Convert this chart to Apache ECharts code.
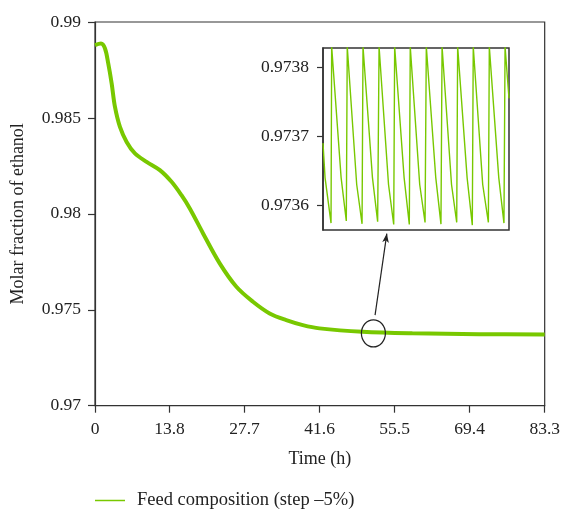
<!DOCTYPE html>
<html>
<head>
<meta charset="utf-8">
<script src="https://cdn.jsdelivr.net/npm/echarts@6/dist/echarts.min.js"></script>
<style>html,body{margin:0;padding:0;background:#fff}#c{width:563px;height:509px}</style>
</head>
<body>
<div id="c"></div>
<script>
// Main curve (time in h, molar fraction)
const mainTime = [0, 1.11, 1.85, 2.46, 3.09, 3.70, 4.62, 5.86, 7.39, 9.56, 12.01, 14.18, 16.02, 17.56, 20.02, 23.10, 26.19, 29.26, 32.35, 35.43, 38.50, 41.59, 49.53, 58.78, 71.16, 83.3];
const mainValue = [0.98880, 0.98888, 0.98862, 0.98783, 0.98679, 0.98557, 0.98453, 0.98375, 0.98315, 0.98271, 0.98228, 0.98167, 0.98097, 0.98028, 0.97898, 0.97742, 0.97620, 0.97542, 0.97481, 0.97446, 0.97420, 0.97403, 0.97385, 0.97377, 0.97373, 0.97371];
const xTicks = [0, 13.8, 27.7, 41.6, 55.5, 69.4, 83.3];
const xTickLabels = ['0', '13.8', '27.7', '41.6', '55.5', '69.4', '83.3'];

// Inset (zoom on the oscillation), x in cycles
const insetX = [0, 0.13, 0.51, 0.55, 1.15, 1.48, 1.54, 2.14, 2.48, 2.54, 3.14, 3.47, 3.56, 4.16, 4.49, 4.55, 5.15, 5.48, 5.54, 6.14, 6.48, 6.56, 7.16, 7.49, 7.56, 8.16, 8.49, 8.55, 9.15, 9.48, 9.54, 10.14, 10.50, 10.56, 11.16, 11.49, 11.56, 11.81];
const insetY = [0.97369, 0.97364, 0.973574, 0.97383, 0.97364, 0.973577, 0.97383, 0.97363, 0.973573, 0.97383, 0.97364, 0.973576, 0.97383, 0.97363, 0.973572, 0.97383, 0.97364, 0.973572, 0.97383, 0.97363, 0.973575, 0.97383, 0.97364, 0.9735725, 0.97383, 0.97363, 0.973575, 0.97383, 0.97364, 0.973571, 0.97383, 0.97363, 0.973575, 0.97383, 0.97364, 0.973574, 0.97383, 0.973755];
const insetTicks = [0.9736, 0.9737, 0.9738];

const seriesName = 'Feed composition (step \u20135%)';
const green = '#78c800';
const axisColor = '#333';
const font = '"Liberation Serif", "DejaVu Serif", serif';

const chart = echarts.init(document.getElementById('c'), null, {renderer: 'canvas'});
chart.setOption({
  animation: false,
  backgroundColor: '#fff',
  textStyle: {fontFamily: font},
  grid: [
    {left: 95, top: 22, right: 17.3, bottom: 103.3, show: true, borderColor: axisColor, borderWidth: 1.2, backgroundColor: 'transparent'},
    {left: 323, top: 48, width: 186, height: 182, show: true, borderColor: axisColor, borderWidth: 1.5, backgroundColor: '#fff'}
  ],
  legend: {
    left: 95, top: 491, padding: 0, icon: 'rect', itemWidth: 30, itemHeight: 1.5,
    textStyle: {fontFamily: font, fontSize: 18.5, color: '#222', padding: [0, 0, 0, 7]},
    data: [{name: seriesName, itemStyle: {color: green}}]
  },
  xAxis: [
    {
      type: 'value', gridIndex: 0, min: 0, max: 83.3,
      name: 'Time (h)', nameLocation: 'middle', nameGap: 45,
      nameTextStyle: {fontFamily: font, fontSize: 18, color: '#222'},
      axisLine: {lineStyle: {color: axisColor, width: 1.2}},
      axisTick: {show: true, length: 7, inside: false, customValues: xTicks, lineStyle: {color: axisColor, width: 1.2}},
      axisLabel: {fontFamily: font, fontSize: 17.5, color: '#222', margin: 15, customValues: xTicks,
        formatter: function (v) { const i = xTicks.indexOf(v); return i >= 0 ? xTickLabels[i] : ''; }},
      splitLine: {show: false}
    },
    {
      type: 'value', gridIndex: 1, min: 0, max: 11.81,
      axisLine: {show: false}, axisTick: {show: false}, axisLabel: {show: false}, splitLine: {show: false}
    }
  ],
  yAxis: [
    {
      type: 'value', gridIndex: 0, min: 0.97, max: 0.99, interval: 0.005,
      name: 'Molar fraction of ethanol', nameLocation: 'middle', nameGap: 68,
      nameTextStyle: {fontFamily: font, fontSize: 18, color: '#222'},
      axisLine: {show: true, lineStyle: {color: axisColor, width: 1.2}},
      axisTick: {show: true, length: 7, lineStyle: {color: axisColor, width: 1.2}},
      axisLabel: {fontFamily: font, fontSize: 17.5, color: '#222', margin: 14,
        formatter: function (v) { return String(parseFloat(v.toFixed(4))); }},
      splitLine: {show: false}
    },
    {
      type: 'value', gridIndex: 1, min: 0.973564, max: 0.973828,
      axisLine: {show: true, lineStyle: {color: axisColor, width: 1.5}},
      axisTick: {show: true, length: 6, customValues: insetTicks, lineStyle: {color: axisColor, width: 1.2}},
      axisLabel: {fontFamily: font, fontSize: 17.5, color: '#222', margin: 14, customValues: insetTicks,
        formatter: function (v) { return v.toFixed(4); }},
      splitLine: {show: false}
    }
  ],
  series: [
    {
      name: seriesName, type: 'line', xAxisIndex: 0, yAxisIndex: 0,
      data: mainTime.map((t, i) => [t, mainValue[i]]),
      smooth: 0.35, symbol: 'none', lineStyle: {color: green, width: 4}, itemStyle: {color: green},
      markPoint: {
        silent: true, symbol: 'circle', symbolSize: [24, 27],
        itemStyle: {color: 'rgba(0,0,0,0)', borderColor: '#222', borderWidth: 1.3},
        label: {show: false},
        data: [{coord: [51.57, 0.97377]}]
      },
      markLine: {
        silent: true, symbol: ['none', 'arrow'], symbolSize: [5, 9],
        label: {show: false},
        lineStyle: {color: '#222', width: 1.2, type: 'solid'},
        data: [[{coord: [51.88, 0.974724]}, {coord: [54.06, 0.97897]}]]
      }
    },
    {
      name: 'inset', type: 'line', xAxisIndex: 1, yAxisIndex: 1,
      data: insetX.map((x, i) => [x, insetY[i]]),
      symbol: 'none', clip: true, lineStyle: {color: green, width: 1.4}, itemStyle: {color: green}
    }
  ]
});
</script>
</body>
</html>
